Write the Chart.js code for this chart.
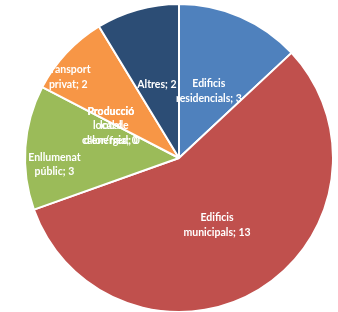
<!DOCTYPE html>
<html>
<head>
<meta charset="utf-8">
<script src="https://cdn.jsdelivr.net/npm/chart.js@4.4.1/dist/chart.umd.min.js"></script>
<style>
  html, body { margin: 0; padding: 0; background: #ffffff; }
  #wrap { width: 338px; height: 312px; position: relative; }
</style>
</head>
<body>
<div id="wrap"><canvas id="c" width="338" height="312"></canvas></div>
<script>
// ---- data ----
const categories = [
  ['Edificis', 'residencials'],
  ['Edificis', 'municipals'],
  ['Enllumenat', 'públic'],
  ['Producció', 'local', "d'energia"],
  ['Producció', 'local de', 'calor/fred'],
  ['Transport', 'privat'],
  ['Altres']
];
const values = [3, 13, 3, 0, 0, 2, 2];

// ---- style ----
const sliceColors = ['#4F81BD', '#C0504D', '#9BBB59', '#8064A2', '#4BACC6', '#F79646', '#2C4D75'];
const labelRadius = [0.475, 0.5, 0.81, 0.49, 0.49, 0.89, 0.5];
const labelAngleShift = [0.6, 1.7, -7, -2, -2, -7, -1];
const labelFont = 'bold 10.5px Lato, "Open Sans", sans-serif';
const lineHeight = 14.5;

const sliceLabels = {
  id: 'sliceLabels',
  afterDatasetsDraw(chart) {
    const ctx = chart.ctx;
    const meta = chart.getDatasetMeta(0);
    ctx.save();
    ctx.font = labelFont;
    ctx.fillStyle = '#ffffff';
    ctx.textAlign = 'center';
    ctx.textBaseline = 'middle';
    meta.data.forEach((arc, i) => {
      const p = arc.getProps(['x', 'y', 'startAngle', 'endAngle', 'outerRadius'], true);
      const mid = (p.startAngle + p.endAngle) / 2 + labelAngleShift[i] * Math.PI / 180;
      const r = p.outerRadius * labelRadius[i];
      const cx = p.x + Math.cos(mid) * r;
      const cy = p.y + Math.sin(mid) * r;
      const lines = categories[i].slice();
      lines[lines.length - 1] = lines[lines.length - 1] + '; ' + values[i];
      const top = cy - (lines.length - 1) * lineHeight / 2;
      lines.forEach((ln, k) => ctx.fillText(ln, cx, top + k * lineHeight));
    });
    ctx.restore();
  }
};

new Chart(document.getElementById('c'), {
  type: 'pie',
  data: {
    labels: categories,
    datasets: [{
      data: values,
      backgroundColor: sliceColors,
      borderColor: '#ffffff',
      borderWidth: 2,
      hoverOffset: 0
    }]
  },
  options: {
    responsive: false,
    animation: false,
    radius: 154,
    layout: { padding: { left: 20, right: 0, top: 4, bottom: 0 } },
    plugins: {
      legend: { display: false },
      tooltip: { enabled: false }
    }
  },
  plugins: [sliceLabels]
});
</script>
</body>
</html>
